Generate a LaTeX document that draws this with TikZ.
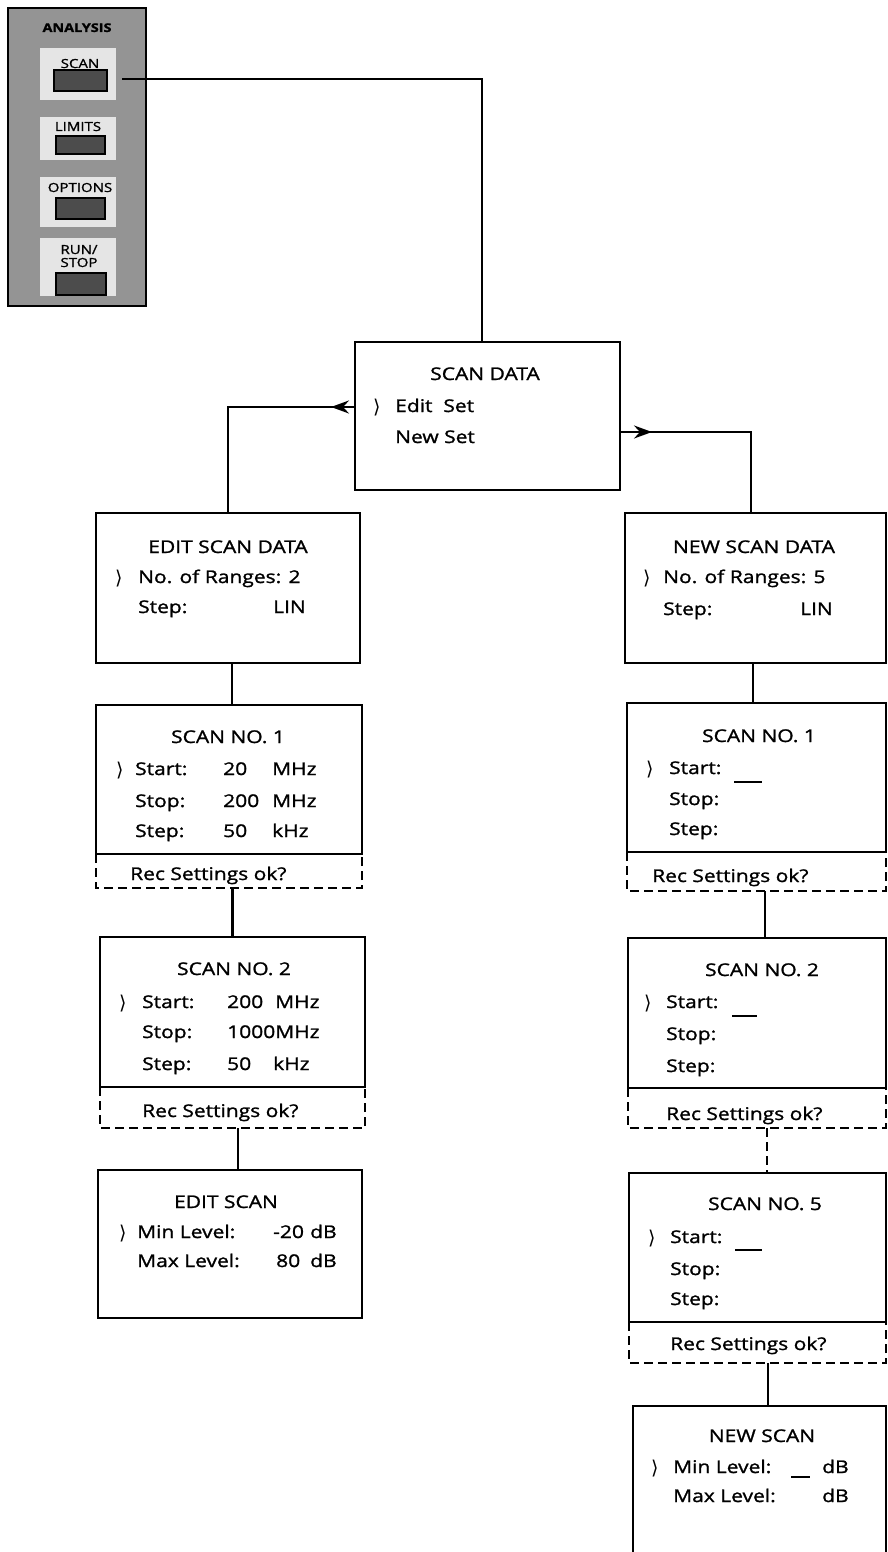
\documentclass[tikz,border=0pt]{standalone}
\usepackage{fontspec}
\setmainfont{Open Sans}[FakeStretch=1.2,FakeBold=1.3]
\newfontfamily\markfont{DejaVu Sans}
\usetikzlibrary{arrows.meta,decorations.markings,calc}
\begin{document}
\begin{tikzpicture}[x=1pt,y=-1pt,
  box/.style={draw, line width=2.5pt, rectangle, anchor=north west, inner sep=0pt, outer sep=0pt},
  recarea/.style={rectangle, anchor=north west, inner sep=0pt, outer sep=0pt},
  recline/.style={line width=2.3pt, dash pattern=on 9pt off 5pt},
  conn/.style={line width=2.5pt},
  txt/.style={anchor=base west, inner sep=0pt, font=\fontsize{17.5pt}{19pt}\selectfont},
  ttl/.style={anchor=base, inner sep=0pt, font=\fontsize{17.5pt}{19pt}\selectfont},
  mk/.style={anchor=base west, inner sep=0pt, font=\markfont\fontsize{19pt}{20pt}\selectfont},
  blank/.style={anchor=west, inner sep=0pt},
  plbl/.style={anchor=base, inner sep=0pt, font=\fontsize{12.5pt}{13pt}\selectfont},
  lightarea/.style={rectangle, anchor=north west, fill=black!10, inner sep=0pt},
  btn/.style={rectangle, anchor=north west, draw=black, line width=1.6pt, fill=black!70, inner sep=0pt},
  larrow/.style={postaction={decorate}, decoration={markings, mark=at position 24pt with {\arrow{Stealth[length=18pt,width=13pt,inset=6pt]}}}},
  rarrow/.style={postaction={decorate}, decoration={markings, mark=at position 32pt with {\arrow{Stealth[length=18pt,width=13pt,inset=6pt]}}}}
]
\useasboundingbox (0,0) rectangle (887,1552);
\clip (0,0) rectangle (887,1552);
\fill[white] (0,0) rectangle (887,1552);

% ---------- ANALYSIS panel ----------
\node[box, line width=2.2pt, fill=black!42, minimum width=138pt, minimum height=298pt] (panel) at (8,8) {};
\node[lightarea, minimum width=76pt, minimum height=52pt] (la1) at (40,48) {};
\node[lightarea, minimum width=76pt, minimum height=43pt] (la2) at (40,117) {};
\node[lightarea, minimum width=76pt, minimum height=50pt] (la3) at (40,177) {};
\node[lightarea, minimum width=76pt, minimum height=58pt] (la4) at (40,238) {};
\node[btn, minimum width=53pt, minimum height=21pt] (btn1) at (53,69) {};
\node[btn, minimum width=49pt, minimum height=18pt] (btn2) at (55,135) {};
\node[btn, minimum width=49pt, minimum height=21pt] (btn3) at (55,197) {};
\node[btn, minimum width=50pt, minimum height=22pt] (btn4) at (55,272) {};
\node[plbl, font=\bfseries\fontsize{12pt}{13pt}\selectfont] (lanalysis) at (77,32) {ANALYSIS};
\node[plbl] (lscan) at (80,68) {SCAN};
\node[plbl] (llimits) at (78,131) {LIMITS};
\node[plbl] (loptions) at (80,192) {OPTIONS};
\node[plbl] (lrun) at (79,254) {RUN/};
\node[plbl] (lstop) at (79,267) {STOP};

% ---------- SCAN DATA ----------
\node[box, minimum width=265pt, minimum height=148pt] (sd) at (355,342) {};
\node[ttl] (sdt) at (485,380) {SCAN DATA};
\node[mk] (sdm) at (373,413) {⟩};
\node[txt] (sd1) at (395,412) {Edit\ \ Set};
\node[txt] (sd2) at (395,443) {New Set};

% ---------- EDIT SCAN DATA ----------
\node[box, minimum width=264pt, minimum height=150pt] (esd) at (96,513) {};
\node[ttl] (esdt) at (228,553) {EDIT SCAN DATA};
\node[mk] (esdm) at (115,584) {⟩};
\node[txt] (esd1) at (138,583) {No. of Ranges: 2};
\node[txt] (esd2) at (138,613) {Step:};
\node[txt] (esd2v) at (273,613) {LIN};

% ---------- SCAN NO. 1 (left) ----------
\node[box, minimum width=266pt, minimum height=149pt] (s1l) at (96,705) {};
\node[recarea, minimum width=266pt, minimum height=34pt] (r1l) at (s1l.south west) {};
\draw[recline] (r1l.north west) |- (r1l.south east) -- (r1l.north east);
\node[ttl] (s1lt) at (228,743) {SCAN NO. 1};
\node[mk] (s1lm) at (116,776) {⟩};
\node[txt] (s1la) at (135,775) {Start:};
\node[txt] (s1lav) at (223,775) {20};
\node[txt] (s1lau) at (272,775) {MHz};
\node[txt] (s1lb) at (135,807) {Stop:};
\node[txt] (s1lbv) at (223,807) {200};
\node[txt] (s1lbu) at (272,807) {MHz};
\node[txt] (s1lc) at (135,837) {Step:};
\node[txt] (s1lcv) at (223,837) {50};
\node[txt] (s1lcu) at (272,837) {kHz};
\node[txt] (s1lr) at (130,880) {Rec Settings ok?};

% ---------- SCAN NO. 2 (left) ----------
\node[box, minimum width=265pt, minimum height=150pt] (s2l) at (100,937) {};
\node[recarea, minimum width=265pt, minimum height=41pt] (r2l) at (s2l.south west) {};
\draw[recline] (r2l.north west) |- (r2l.south east) -- (r2l.north east);
\node[ttl] (s2lt) at (234,975) {SCAN NO. 2};
\node[mk] (s2lm) at (119,1009) {⟩};
\node[txt] (s2la) at (142,1008) {Start:};
\node[txt] (s2lav) at (227,1008) {200};
\node[txt] (s2lau) at (275,1008) {MHz};
\node[txt] (s2lb) at (142,1038) {Stop:};
\node[txt] (s2lbv) at (227,1038) {1000MHz};
\node[txt] (s2lc) at (142,1070) {Step:};
\node[txt] (s2lcv) at (227,1070) {50};
\node[txt] (s2lcu) at (273,1070) {kHz};
\node[txt] (s2lr) at (142,1117) {Rec Settings ok?};

% ---------- EDIT SCAN ----------
\node[box, minimum width=264pt, minimum height=148pt] (esl) at (98,1170) {};
\node[ttl] (eslt) at (226,1208) {EDIT SCAN};
\node[mk] (eslm) at (119,1239) {⟩};
\node[txt] (esla) at (137,1238) {Min Level:};
\node[txt] (eslav) at (273,1238) {-20};
\node[txt] (eslau) at (310,1238) {dB};
\node[txt] (eslb) at (137,1267) {Max Level:};
\node[txt] (eslbv) at (276,1267) {80};
\node[txt] (eslbu) at (310,1267) {dB};

% ---------- NEW SCAN DATA ----------
\node[box, minimum width=261pt, minimum height=150pt] (nsd) at (625,513) {};
\node[ttl] (nsdt) at (754,553) {NEW SCAN DATA};
\node[mk] (nsdm) at (643,584) {⟩};
\node[txt] (nsd1) at (663,583) {No. of Ranges: 5};
\node[txt] (nsd2) at (663,615) {Step:};
\node[txt] (nsd2v) at (800,615) {LIN};

% ---------- SCAN NO. 1 (right) ----------
\node[box, minimum width=259pt, minimum height=149pt] (s1r) at (627,703) {};
\node[recarea, minimum width=259pt, minimum height=39pt] (r1r) at (s1r.south west) {};
\draw[recline] (r1r.north west) |- (r1r.south east) -- (r1r.north east);
\node[ttl] (s1rt) at (759,742) {SCAN NO. 1};
\node[mk] (s1rm) at (646,775) {⟩};
\node[txt] (s1ra) at (669,774) {Start:};
\node[blank] (s1rau) at (734,782) {\rule{28pt}{2pt}};
\node[txt] (s1rb) at (669,805) {Stop:};
\node[txt] (s1rc) at (669,835) {Step:};
\node[txt] (s1rr) at (652,882) {Rec Settings ok?};

% ---------- SCAN NO. 2 (right) ----------
\node[box, minimum width=258pt, minimum height=150pt] (s2r) at (628,938) {};
\node[recarea, minimum width=258pt, minimum height=40pt] (r2r) at (s2r.south west) {};
\draw[recline] (r2r.north west) |- (r2r.south east) -- (r2r.north east);
\node[ttl] (s2rt) at (762,976) {SCAN NO. 2};
\node[mk] (s2rm) at (644,1009) {⟩};
\node[txt] (s2ra) at (666,1008) {Start:};
\node[blank] (s2rau) at (732,1016) {\rule{25pt}{2pt}};
\node[txt] (s2rb) at (666,1040) {Stop:};
\node[txt] (s2rc) at (666,1072) {Step:};
\node[txt] (s2rr) at (666,1120) {Rec Settings ok?};

% ---------- SCAN NO. 5 (right) ----------
\node[box, minimum width=257pt, minimum height=149pt] (s5r) at (629,1173) {};
\node[recarea, minimum width=257pt, minimum height=41pt] (r5r) at (s5r.south west) {};
\draw[recline] (r5r.north west) |- (r5r.south east) -- (r5r.north east);
\node[ttl] (s5rt) at (765,1210) {SCAN NO. 5};
\node[mk] (s5rm) at (648,1244) {⟩};
\node[txt] (s5ra) at (670,1243) {Start:};
\node[blank] (s5rau) at (735,1250) {\rule{27pt}{2pt}};
\node[txt] (s5rb) at (670,1275) {Stop:};
\node[txt] (s5rc) at (670,1305) {Step:};
\node[txt] (s5rr) at (670,1350) {Rec Settings ok?};

% ---------- NEW SCAN ----------
\node[box, minimum width=253pt, minimum height=170pt] (nsr) at (633,1406) {};
\node[ttl] (nsrt) at (762,1442) {NEW SCAN};
\node[mk] (nsrm) at (651,1474) {⟩};
\node[txt] (nsra) at (673,1473) {Min Level:};
\node[blank] (nsrau) at (791,1477) {\rule{19pt}{2pt}};
\node[txt] (nsrav) at (822,1473) {dB};
\node[txt] (nsrb) at (673,1502) {Max Level:};
\node[txt] (nsrbv) at (822,1502) {dB};

% ---------- connectors ----------
\coordinate (scanout) at (122,79);
\coordinate (sdin) at ($(sd.north west)+(127,0)$);
\draw[conn] (scanout) -| (sdin);

\coordinate (sdl) at ($(sd.north west)+(0,65)$);
\draw[conn, larrow] (sdl) -| (esd.north);

\coordinate (sdr) at ($(sd.north east)+(0,90)$);
\coordinate (nsdin) at ($(nsd.north west)+(126,0)$);
\draw[conn, rarrow] (sdr) -| (nsdin);

\draw[conn] ($(esd.south)+(4,0)$) -- ($(s1l.north)+(3,0)$);
\draw[conn] (r1l.south -| s2l.north) -- (s2l.north);
\draw[conn] ($(r2l.south)+(5.5,0)$) -- ($(esl.north)+(8,0)$);

\draw[conn] ($(nsd.south)+(-2.5,0)$) -- ($(s1r.north)+(-3.5,0)$);
\draw[conn] ($(r1r.south)+(8.5,0)$) -- ($(s2r.north)+(8,0)$);
\draw[recline] ($(r2r.south)+(10,0)$) -- ($(s5r.north)+(9.5,0)$);
\draw[conn] ($(r5r.south)+(10.5,0)$) -- ($(nsr.north)+(8.5,0)$);
\end{tikzpicture}
\end{document}
